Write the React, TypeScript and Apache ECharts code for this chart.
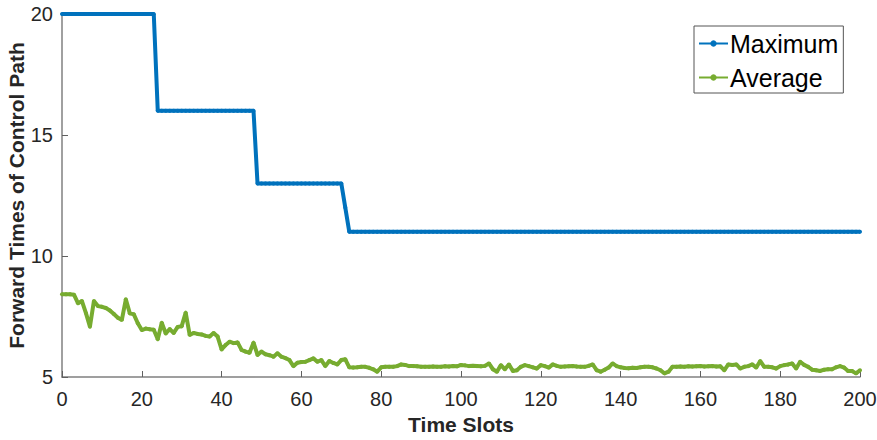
import React, { useEffect, useRef } from "react";
import * as echarts from "echarts";

// Time slots 0..200 (x = index)
const maximumValues: number[] = [
  20, 20, 20, 20, 20, 20, 20, 20, 20, 20,
  20, 20, 20, 20, 20, 20, 20, 20, 20, 20,
  20, 20, 20, 20, 16, 16, 16, 16, 16, 16,
  16, 16, 16, 16, 16, 16, 16, 16, 16, 16,
  16, 16, 16, 16, 16, 16, 16, 16, 16, 13,
  13, 13, 13, 13, 13, 13, 13, 13, 13, 13,
  13, 13, 13, 13, 13, 13, 13, 13, 13, 13,
  13, 12, 11, 11, 11, 11, 11, 11, 11, 11,
  11, 11, 11, 11, 11, 11, 11, 11, 11, 11,
  11, 11, 11, 11, 11, 11, 11, 11, 11, 11,
  11, 11, 11, 11, 11, 11, 11, 11, 11, 11,
  11, 11, 11, 11, 11, 11, 11, 11, 11, 11,
  11, 11, 11, 11, 11, 11, 11, 11, 11, 11,
  11, 11, 11, 11, 11, 11, 11, 11, 11, 11,
  11, 11, 11, 11, 11, 11, 11, 11, 11, 11,
  11, 11, 11, 11, 11, 11, 11, 11, 11, 11,
  11, 11, 11, 11, 11, 11, 11, 11, 11, 11,
  11, 11, 11, 11, 11, 11, 11, 11, 11, 11,
  11, 11, 11, 11, 11, 11, 11, 11, 11, 11,
  11, 11, 11, 11, 11, 11, 11, 11, 11, 11,
  11,
];

const averageValues: number[] = [
  8.42, 8.42, 8.42, 8.40, 8.05, 8.14, 7.64, 7.08, 8.14, 7.93,
  7.90, 7.85, 7.75, 7.60, 7.45, 7.36, 8.21, 7.63, 7.59, 7.22,
  6.94, 7.00, 6.97, 6.95, 6.56, 7.24, 6.80, 6.98, 6.82, 7.07,
  7.10, 7.66, 6.74, 6.82, 6.78, 6.76, 6.70, 6.67, 6.82, 6.67,
  6.14, 6.32, 6.46, 6.40, 6.43, 6.12, 6.05, 6.00, 6.42, 5.91,
  6.05, 5.94, 5.90, 5.84, 5.98, 5.84, 5.78, 5.70, 5.45, 5.59,
  5.62, 5.63, 5.70, 5.77, 5.63, 5.70, 5.45, 5.66, 5.58, 5.52,
  5.70, 5.73, 5.40, 5.39, 5.40, 5.42, 5.42, 5.38, 5.32, 5.22,
  5.40, 5.42, 5.42, 5.42, 5.45, 5.52, 5.50, 5.45, 5.45, 5.44,
  5.42, 5.42, 5.42, 5.43, 5.42, 5.42, 5.44, 5.43, 5.45, 5.44,
  5.50, 5.48, 5.45, 5.46, 5.45, 5.44, 5.46, 5.56, 5.32, 5.22,
  5.49, 5.32, 5.52, 5.25, 5.28, 5.42, 5.49, 5.45, 5.40, 5.35,
  5.49, 5.45, 5.39, 5.52, 5.46, 5.42, 5.43, 5.44, 5.45, 5.43,
  5.42, 5.42, 5.46, 5.52, 5.28, 5.22, 5.30, 5.39, 5.56, 5.45,
  5.40, 5.37, 5.36, 5.38, 5.37, 5.40, 5.42, 5.42, 5.40, 5.35,
  5.28, 5.15, 5.22, 5.42, 5.42, 5.43, 5.42, 5.44, 5.43, 5.44,
  5.45, 5.43, 5.44, 5.45, 5.43, 5.44, 5.28, 5.52, 5.50, 5.52,
  5.35, 5.42, 5.45, 5.52, 5.39, 5.66, 5.42, 5.42, 5.40, 5.35,
  5.45, 5.49, 5.52, 5.56, 5.35, 5.63, 5.50, 5.42, 5.30, 5.28,
  5.25, 5.30, 5.32, 5.32, 5.40, 5.45, 5.39, 5.25, 5.25, 5.15,
  5.28,
];

const seriesNames = ["Maximum", "Average"];
const xAxisTitle = "Time Slots";
const yAxisTitle = "Forward Times of Control Path";

const BLUE = "#0072BD";
const GREEN = "#77AC30";
const FONT = "'Liberation Sans', Arial, Helvetica, sans-serif";

export default function App() {
  const ref = useRef<HTMLDivElement>(null);

  useEffect(() => {
    if (!ref.current) return;
    const chart = echarts.init(ref.current, undefined, { renderer: "svg" });
    const toPairs = (arr: number[]) => arr.map((v, i) => [i, v]);

    chart.setOption({
      animation: false,
      backgroundColor: "#ffffff",
      textStyle: { fontFamily: FONT },
      grid: {
        left: 62,
        right: 17,
        top: 14,
        bottom: 63,
        containLabel: false,
        outerBoundsMode: "none",
      },
      legend: {
        orient: "vertical",
        left: 694,
        top: 26,
        data: seriesNames,
        itemWidth: 29,
        itemHeight: 8,
        itemGap: 9,
        padding: [5, 5, 3, 4],
        borderColor: "#555",
        borderWidth: 1,
        backgroundColor: "#fff",
        textStyle: {
          fontSize: 25,
          lineHeight: 25,
          color: "#000",
          fontFamily: FONT,
          padding: [0, 0, 0, -3],
        },
      },
      xAxis: {
        type: "value",
        min: 0,
        max: 200,
        interval: 20,
        name: xAxisTitle,
        nameLocation: "middle",
        nameGap: 37,
        nameMoveOverlap: false,
        nameTextStyle: { fontSize: 21, fontWeight: "bold", color: "#262626", fontFamily: FONT },
        axisLine: { show: true, lineStyle: { color: "#808080", width: 1.5 } },
        axisTick: { show: true, inside: true, length: 6, lineStyle: { color: "#606060" } },
        axisLabel: { fontSize: 20, color: "#262626", margin: 12, fontFamily: FONT },
        splitLine: { show: false },
      },
      yAxis: {
        type: "value",
        min: 5,
        max: 20,
        interval: 5,
        name: yAxisTitle,
        nameLocation: "middle",
        nameGap: 35,
        nameMoveOverlap: false,
        nameTextStyle: { fontSize: 21, fontWeight: "bold", color: "#262626", fontFamily: FONT },
        axisLine: { show: true, lineStyle: { color: "#808080", width: 1.5 } },
        axisTick: { show: true, inside: true, length: 6, lineStyle: { color: "#606060" } },
        axisLabel: { fontSize: 20, color: "#262626", margin: 9, fontFamily: FONT },
        splitLine: { show: false },
      },
      series: [
        {
          name: seriesNames[0],
          type: "line",
          data: toPairs(maximumValues),
          symbol: "circle",
          symbolSize: 4,
          showAllSymbol: true,
          color: BLUE,
          lineStyle: { color: BLUE, width: 4 },
          itemStyle: { color: BLUE },
          z: 3,
        },
        {
          name: seriesNames[1],
          type: "line",
          data: toPairs(averageValues),
          symbol: "circle",
          symbolSize: 4,
          showAllSymbol: true,
          color: GREEN,
          lineStyle: { color: GREEN, width: 4 },
          itemStyle: { color: GREEN },
          z: 2,
        },
      ],
    });

    return () => chart.dispose();
  }, []);

  return <div ref={ref} style={{ width: 877, height: 440, position: "absolute", left: 0, top: 0 }} />;
}
